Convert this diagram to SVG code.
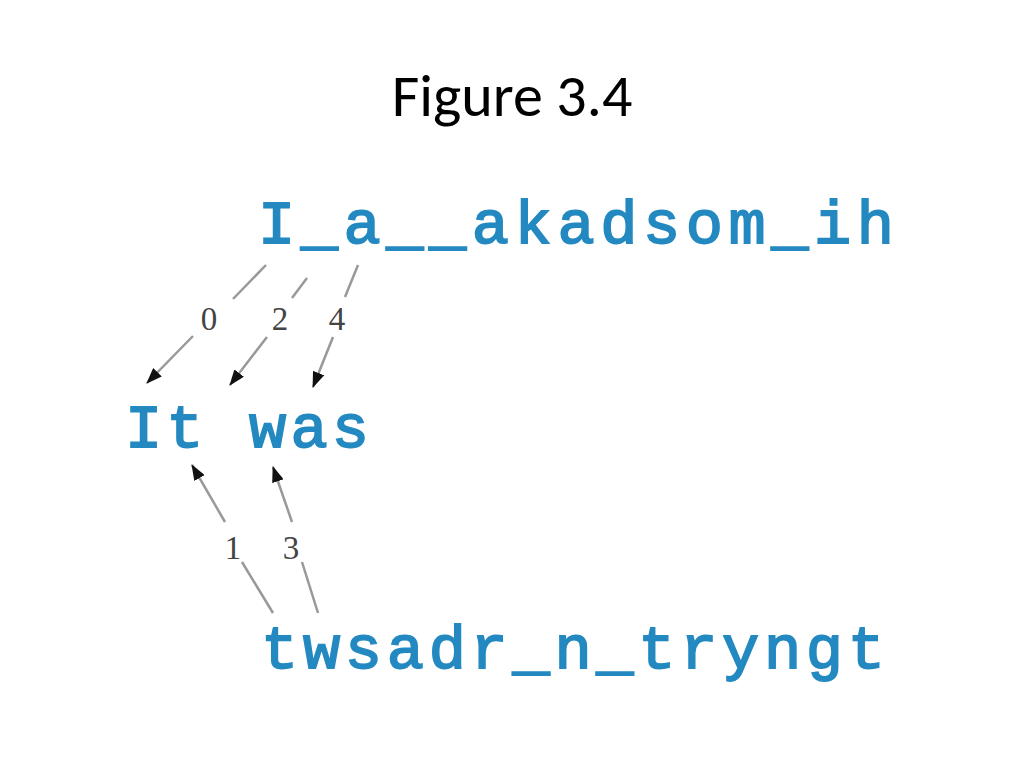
<svg xmlns="http://www.w3.org/2000/svg" width="1024" height="768" viewBox="0 0 1024 768">
<defs>
<marker id="ah" markerUnits="userSpaceOnUse" markerWidth="16" markerHeight="12" refX="15" refY="6" orient="auto">
<path d="M0,0 L16,6 L0,12 Z" fill="#111"/>
</marker>
<style>
.title{font-family:"Carlito","Liberation Sans",sans-serif;font-size:60px;fill:#000}
.word{font-family:"Liberation Mono","Courier New",monospace;font-size:62px;fill:#2389c0;stroke:#2389c0;stroke-width:1.8}
.num{font-family:"Liberation Serif","Times New Roman",serif;font-size:33px;fill:#444;text-anchor:middle}
.ln{stroke:#999;stroke-width:2.5;fill:none}
</style>
</defs>
<rect width="1024" height="768" fill="#fff"/>
<text class="title" x="512" y="116" text-anchor="middle">Figure 3.4</text>
<g id="top"><text class="word" x="258" y="243" textLength="636">I_a__akadsom_ih</text></g>
<g id="mid"><text class="word" x="125" y="447" textLength="244">It was</text></g>
<g id="bottom"><text class="word" x="261" y="668" textLength="624">twsadr_n_tryngt</text></g>
<g id="connectors">
<path class="ln" d="M266,265 L233,299"/>
<path class="ln" d="M193,336 L147,383" marker-end="url(#ah)"/>
<path class="ln" d="M307,278 L292,298"/>
<path class="ln" d="M267,337 L230,385" marker-end="url(#ah)"/>
<path class="ln" d="M358,265 L345,297"/>
<path class="ln" d="M333,337 L313,387" marker-end="url(#ah)"/>
<path class="ln" d="M225,522 L192,465" marker-end="url(#ah)"/>
<path class="ln" d="M273,613 L242,562"/>
<path class="ln" d="M292,522 L273,467" marker-end="url(#ah)"/>
<path class="ln" d="M318,613 L302,562"/>
</g>
<g id="labels">
<text class="num" x="209" y="330">0</text>
<text class="num" x="280" y="330">2</text>
<text class="num" x="337" y="330">4</text>
<text class="num" x="233" y="559">1</text>
<text class="num" x="291" y="559">3</text>
</g>
</svg>
